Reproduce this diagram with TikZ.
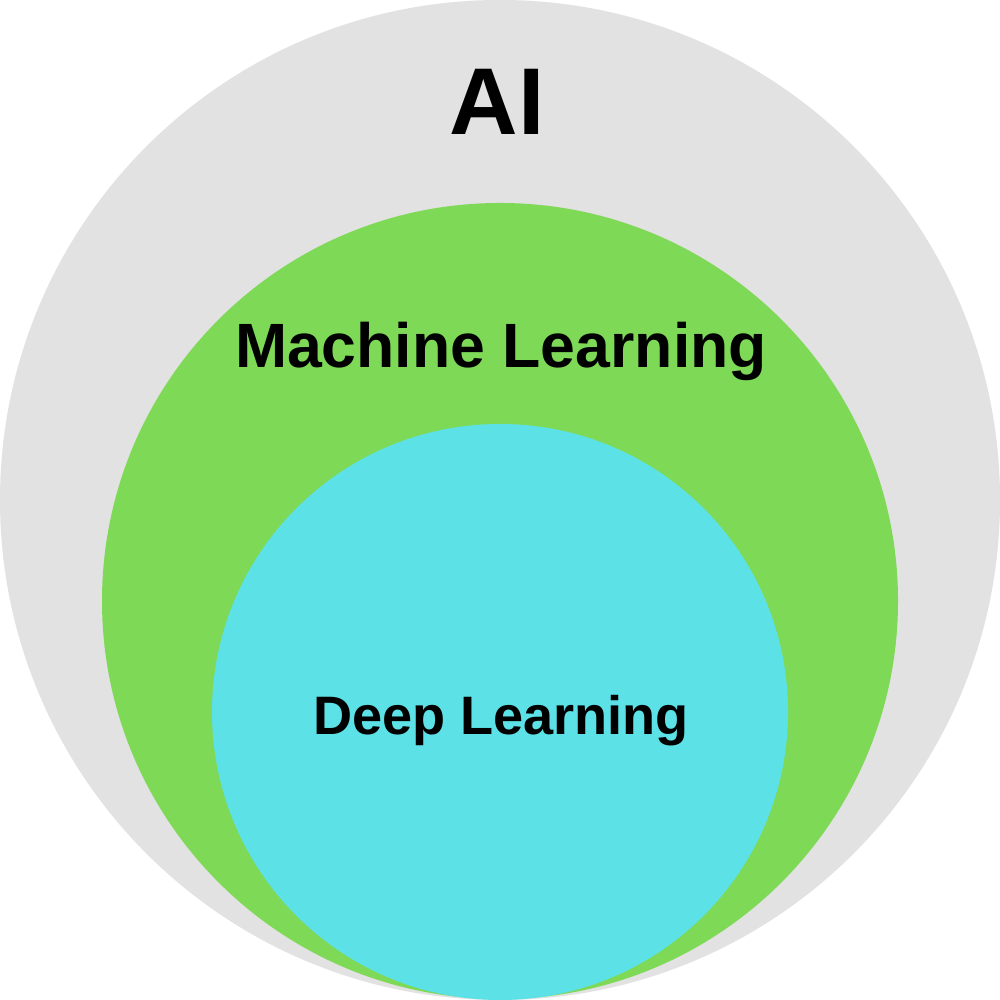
\documentclass[tikz,border=0pt]{standalone}
\usepackage{fontspec}
\setmainfont{Liberation Sans}
\definecolor{aigrey}{HTML}{E2E2E2}
\definecolor{mlgreen}{HTML}{7ED957}
\definecolor{dlcyan}{HTML}{5CE1E6}
\begin{document}
\begin{tikzpicture}
            \tikzstyle{every node}+=[inner sep=0pt]
            \tikzstyle{label text}=[anchor=base, font=\bfseries]
            \useasboundingbox (0,0) rectangle (10,10);
            \fill [white] (0,0) rectangle (10,10);
            % nested circles
            \fill [aigrey] (5,5) circle (5);
            \fill [mlgreen] (5,3.99) circle (3.98);
            \fill [dlcyan] (5,2.88) circle (2.88);
            % labels
            \node [label text, font=\fontsize{27}{30}\selectfont\bfseries] (ai) at (4.97,8.65) {AI};
            \node [label text, font=\fontsize{17.8}{20}\selectfont\bfseries] (ml) at (5.01,6.32) {Machine Learning};
            \node [label text, font=\fontsize{15.4}{18}\selectfont\bfseries] (dl) at (5.01,2.65) {Deep Learning};
        \end{tikzpicture}
\end{document}
